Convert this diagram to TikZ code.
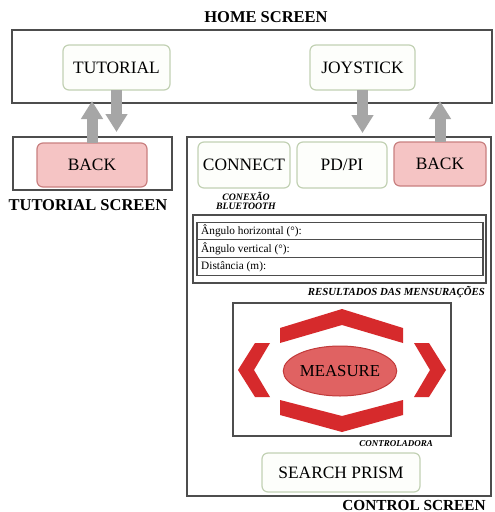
\documentclass[tikz,border=0pt]{standalone}
\usepackage{fontspec}
\setmainfont{Liberation Serif}
\usetikzlibrary{arrows.meta,shapes.geometric}
\definecolor{btnborder}{HTML}{C2D1B4}
\definecolor{btnfill}{HTML}{FDFEFB}
\definecolor{pinkfill}{HTML}{F5C4C4}
\definecolor{pinkborder}{HTML}{C98080}
\definecolor{arrowgray}{HTML}{A6A6A6}
\definecolor{framegray}{HTML}{4D4D4D}
\definecolor{ctrlred}{HTML}{D62A2C}
\definecolor{ellfill}{HTML}{E06262}
\definecolor{ellborder}{HTML}{C23A3A}
\begin{document}
\begin{tikzpicture}[x=1pt,y=-1pt,
  frame/.style={draw=framegray,line width=1.3pt,inner sep=0pt,outer sep=0pt,fill=white},
  btn/.style={draw=btnborder,fill=btnfill,line width=1.2pt,rounded corners=6pt,inner sep=0pt,outer sep=0pt,font=\fontsize{17.4}{19}\selectfont},
  pinkbtn/.style={btn,draw=pinkborder,fill=pinkfill},
  title/.style={font=\fontsize{16.5}{18}\selectfont\bfseries,inner sep=0pt},
  caption/.style={font=\fontsize{10.8}{11}\selectfont\bfseries\itshape,inner sep=0pt},
  rowbox/.style={draw=framegray,line width=1.1pt,minimum width=286pt,minimum height=17.7pt,inner sep=0pt,outer sep=0pt},
  rowtext/.style={font=\fontsize{11.3}{12}\selectfont,anchor=west,inner sep=0pt},
  blockarrow/.style={draw=arrowgray,line width=11pt,-{Triangle[width=21pt,length=18pt]}}
]
\useasboundingbox (0,0) rectangle (495,512);
\fill[white] (0,0) rectangle (495,512);

% home screen
\node[title] (hometitle) at (266,17) {HOME SCREEN};
\node[frame,minimum width=480pt,minimum height=73pt] (homebox) at (252,66.5) {};
\node[btn,minimum width=107pt,minimum height=45pt] (tutorial) at (116.5,67.5) {TUTORIAL};
\node[btn,minimum width=105pt,minimum height=45pt] (joystick) at (362.5,67.5) {JOYSTICK};

% tutorial screen
\node[frame,minimum width=159pt,minimum height=53pt] (tutscreen) at (92.5,163.5) {};
\node[pinkbtn,minimum width=110pt,minimum height=44pt] (tutback) at (92,165) {BACK};
\node[title] (tuttitle) at (88,205) {TUTORIAL SCREEN};

% control screen
\node[frame,minimum width=304pt,minimum height=359pt] (ctrlscreen) at (339,316.5) {};
\node[btn,minimum width=92pt,minimum height=46pt] (connect) at (244,165) {CONNECT};
\node[btn,minimum width=90pt,minimum height=46pt] (pdpi) at (342,165) {PD/PI};
\node[pinkbtn,minimum width=92pt,minimum height=44pt] (ctrlback) at (440,164) {BACK};
\node[caption,font=\fontsize{9.8}{10}\selectfont\bfseries\itshape,align=center] (conexao) at (246,200.5) {CONEXÃO\\[-1pt]BLUETOOTH};

% results
\node[frame,line width=1.2pt,minimum width=293pt,minimum height=68pt] (results) at (339.5,249) {};
\node[rowbox] (row1) at (340,230.9) {};
\node[rowbox] (row2) at (340,248.6) {};
\node[rowbox] (row3) at (340,266.3) {};
\node[rowtext] (row1t) at (201,230.9) {Ângulo horizontal (°):};
\node[rowtext] (row2t) at (201,248.6) {Ângulo vertical (°):};
\node[rowtext] (row3t) at (201,266.3) {Distância (m):};
\node[caption,anchor=east] (resultados) at (485,292) {RESULTADOS DAS MENSURAÇÕES};

% controller
\node[frame,line width=1.2pt,minimum width=218pt,minimum height=133pt] (controller) at (342,369.5) {};
\fill[ctrlred] (280,328) -- (342,309) -- (403,328) -- (403,343) -- (342,325) -- (280,343) -- cycle;
\fill[ctrlred] (280,400) -- (342,416) -- (403,400) -- (403,415) -- (342,432) -- (280,415) -- cycle;
\fill[ctrlred] (255,343) -- (270,343) -- (254,370) -- (270,397) -- (255,397) -- (238,370) -- cycle;
\fill[ctrlred] (429,343) -- (414,343) -- (430,370) -- (414,397) -- (429,397) -- (446,370) -- cycle;
\node[ellipse,draw=ellborder,fill=ellfill,line width=1pt,minimum width=108pt,minimum height=50pt,inner sep=0pt,font=\fontsize{16.8}{18}\selectfont] (measure) at (340,371) {MEASURE};
\node[caption,font=\fontsize{9}{10}\selectfont\bfseries\itshape,anchor=east] (controladora) at (433,444) {CONTROLADORA};
\node[btn,minimum width=158pt,minimum height=39pt] (search) at (341,472.5) {SEARCH PRISM};
\node[title,font=\fontsize{15.3}{16}\selectfont\bfseries,anchor=base,text depth=0pt] (ctrltitle) at (414,510) {CONTROL SCREEN};

% arrows
\draw[blockarrow] (tutorial.south) -- ([yshift=5pt]tutorial.south |- tutscreen.north);
\draw[blockarrow] (tutback.north) -- ([yshift=2pt]tutback.north |- homebox.south);
\draw[blockarrow] (joystick.south) -- ([yshift=4pt]joystick.south |- ctrlscreen.north);
\draw[blockarrow] (ctrlback.north) -- ([yshift=2pt]ctrlback.north |- homebox.south);
\end{tikzpicture}
\end{document}
